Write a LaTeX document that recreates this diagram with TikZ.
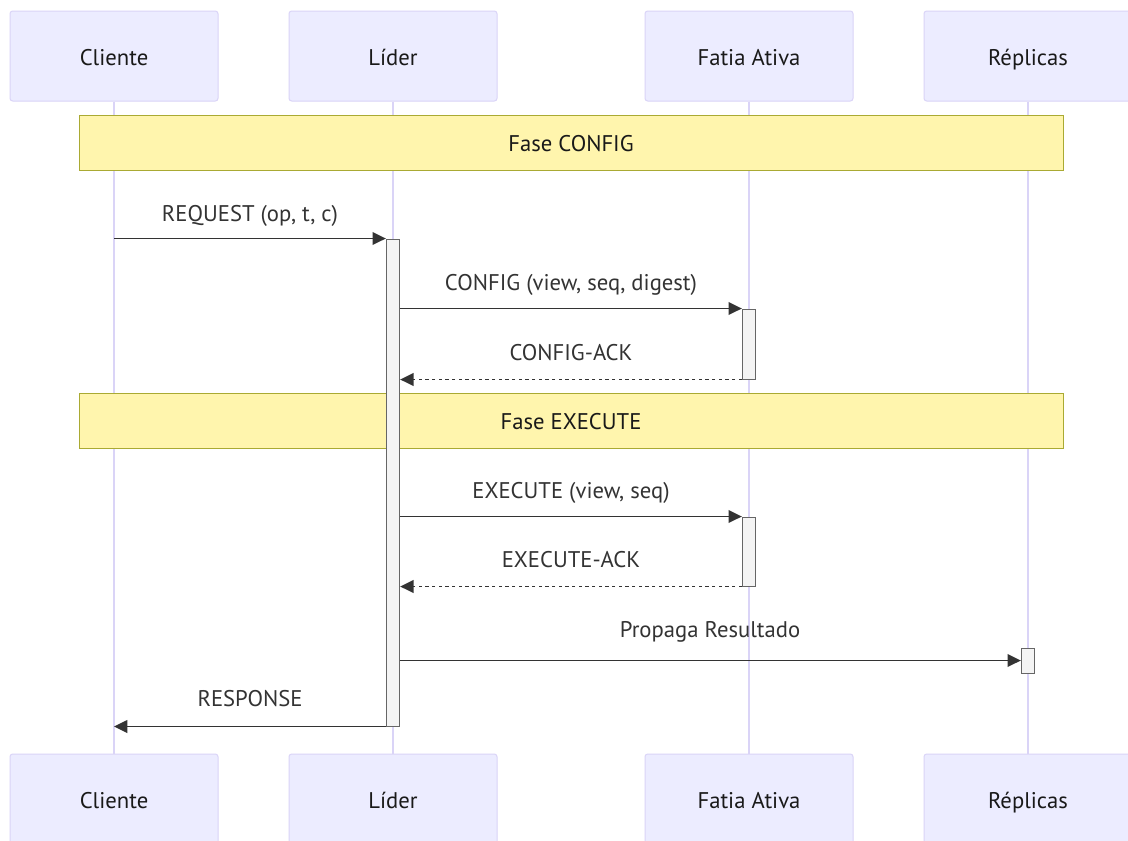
\documentclass[tikz,border=0pt]{standalone}
\usepackage{fontspec}
\setmainfont{PT Sans}
\usetikzlibrary{positioning, arrows.meta}
\definecolor{actfill}{HTML}{ECECFF}
\definecolor{actline}{HTML}{DAD4F7}
\definecolor{notefill}{HTML}{FFF5AD}
\definecolor{noteline}{HTML}{AAAA33}
\definecolor{barfill}{HTML}{F4F4F4}
\definecolor{barline}{HTML}{666666}
\definecolor{msgcol}{HTML}{333333}

\begin{document}
\begin{tikzpicture}[x=0.75pt, y=-0.75pt,
    actor/.style={rectangle, draw=actline, fill=actfill, rounded corners=2pt, line width=0.75pt, minimum width=156pt, minimum height=67.5pt, font=\fontsize{17}{20}\selectfont, text=black!90, text height=16pt, text depth=2pt},
    phase/.style={rectangle, draw=noteline, fill=notefill, line width=0.75pt, minimum width=738pt, minimum height=41.25pt, font=\fontsize{17}{20}\selectfont, text=black!90, text height=16pt, text depth=2pt},
    bar/.style={rectangle, draw=barline, fill=barfill, line width=0.75pt, minimum width=10pt, inner sep=0pt},
    lifeline/.style={-, actline, line width=1.1pt},
    msg/.style={-{Triangle[length=10pt, width=9.5pt]}, msgcol, line width=1.2pt},
    reply/.style={msg, dash pattern=on 2.5pt off 2.5pt},
    lbl/.style={font=\fontsize{17}{20}\selectfont, text=msgcol, text height=16pt, text depth=2pt}]

    \useasboundingbox[fill=white] (0,0) rectangle (1128,840);

    \node[actor] (cliT) at (114, 56)  {Cliente};
    \node[actor] (lidT) at (393, 56)  {Líder};
    \node[actor] (fatT) at (749, 56)  {Fatia Ativa};
    \node[actor] (repT) at (1028, 56) {Réplicas};

    \node[actor] (cliB) at (114, 799)  {Cliente};
    \node[actor] (lidB) at (393, 799)  {Líder};
    \node[actor] (fatB) at (749, 799)  {Fatia Ativa};
    \node[actor] (repB) at (1028, 799) {Réplicas};

    \draw[lifeline] (cliT.south) -- (cliB.north);
    \draw[lifeline] (lidT.south) -- (lidB.north);
    \draw[lifeline] (fatT.south) -- (fatB.north);
    \draw[lifeline] (repT.south) -- (repB.north);

    \node[phase] (ph1) at (571, 142.5) {Fase CONFIG};
    \node[phase] (ph2) at (571, 420.5) {Fase EXECUTE};

    \node[bar, minimum height=365.25pt] (barL) at (393, 482.5) {};
    \node[bar, minimum height=52.5pt] (barF1) at (749, 344) {};
    \node[bar, minimum height=51.75pt] (barF2) at (749, 551.5) {};
    \node[bar, minimum height=18.75pt] (barR) at (1028, 660.5) {};

    \draw[msg] (cliT |- barL.north) -- (barL.north west);
    \draw[msg] (barL.east |- barF1.north) -- (barF1.north west);
    \draw[reply] (barF1.south west) -- (barL.east |- barF1.south);
    \draw[msg] (barL.east |- barF2.north) -- (barF2.north west);
    \draw[reply] (barF2.south west) -- (barL.east |- barF2.south);
    \draw[msg] (barL.east |- barR.west) -- (barR.west);
    \draw[msg] (barL.south west) -- (cliT |- barL.south);

    \node[lbl] (reqlbl) at (250, 212) {REQUEST (op, t, c)};
    \node[lbl] (cfglbl) at (571, 281) {CONFIG (view, seq, digest)};
    \node[lbl] (cacklbl) at (571, 351) {CONFIG-ACK};
    \node[lbl] (exelbl) at (571, 489) {EXECUTE (view, seq)};
    \node[lbl] (eacklbl) at (571, 558) {EXECUTE-ACK};
    \node[lbl] (proplbl) at (710, 628) {Propaga Resultado};
    \node[lbl] (resplbl) at (250, 697) {RESPONSE};
  \end{tikzpicture}
\end{document}
